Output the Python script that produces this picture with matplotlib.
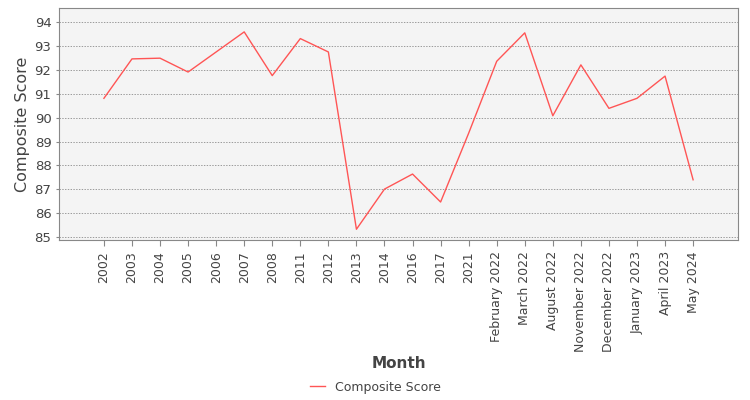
import matplotlib
matplotlib.use("Agg")
import matplotlib.pyplot as plt

months = ["2002", "2003", "2004", "2005", "2006", "2007", "2008", "2011", "2012",
          "2013", "2014", "2016", "2017", "2021", "February 2022", "March 2022",
          "August 2022", "November 2022", "December 2022", "January 2023",
          "April 2023", "May 2024"]
scores = [90.81, 92.46, 92.49, 91.91, 92.75, 93.59, 91.76, 93.31, 92.75,
          85.33, 87.01, 87.64, 86.47, 89.35, 92.36, 93.55, 90.08, 92.21,
          90.39, 90.81, 91.74, 87.40]

plt.rcParams['font.family'] = ['DejaVu Sans']
fig = plt.figure(figsize=(7.5, 4), dpi=100)
ax = fig.add_axes([0.0787, 0.4, 0.9053, 0.58])
ax.set_facecolor('#f4f4f4')

x = list(range(len(months)))
ax.plot(x, scores, color='#ff5555', linewidth=1, label='Composite Score')

ax.set_xlim(-1.6, len(months) - 1 + 1.6)
ax.set_ylim(84.88, 94.59)
ax.set_xticks(x)
ax.set_xticklabels(months, rotation=90, fontsize=9, color='#444444')
ax.set_yticks(range(85, 95))
ax.tick_params(axis='y', labelsize=9.5, colors='#444444', length=2, color='#888888')
ax.tick_params(axis='x', length=4, color='#888888', pad=4)
ax.grid(True, axis='y', linestyle=(0, (2, 2)), color='#777777', linewidth=0.5)
for s in ax.spines.values():
    s.set_color('#888888')

ax.set_ylabel('Composite Score', fontsize=11.5, color='#444444', labelpad=3)
fig.text(0.0787 + 0.9053 / 2, 1 - 364 / 400, 'Month', fontsize=11, fontweight='bold',
         color='#444444', ha='center', va='center')

fig.legend(loc='center', bbox_to_anchor=(0.5, 1 - 387 / 400), frameon=False,
           fontsize=9, handlelength=1.2, labelcolor='#444444')

fig.savefig('out.png')
